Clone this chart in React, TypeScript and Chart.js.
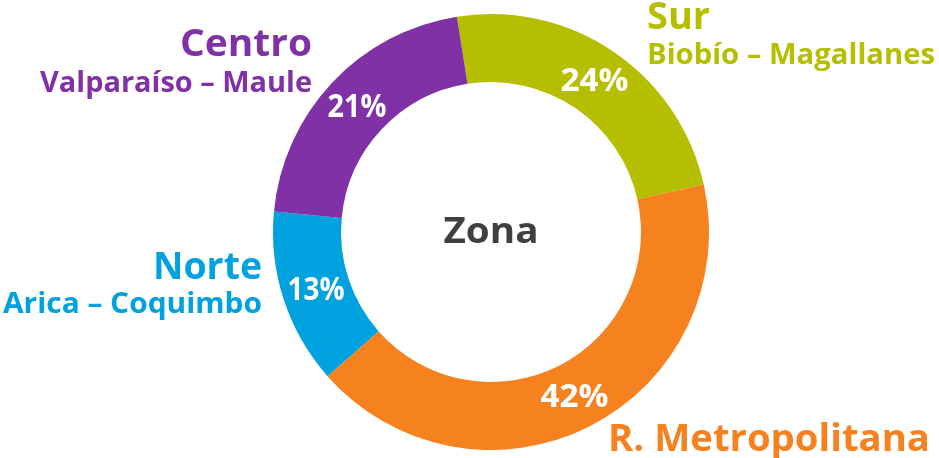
import React, { useEffect, useRef } from 'react';
import { Chart, registerables } from 'chart.js';

Chart.register(...registerables);

const zones = ['Sur', 'R. Metropolitana', 'Norte', 'Centro'];
const ranges = ['Biobío – Magallanes', '', 'Arica – Coquimbo', 'Valparaíso – Maule'];
const shares = [24, 42, 13, 21];
const colors = ['#B5BE00', '#F6821F', '#00A1DF', '#7F31A5'];
const centerTitle = 'Zona';

const FONT = '"Open Sans", sans-serif';

// label layout relative to chart centre: x offset, title baseline, subtitle baseline, align,
// rendered title width, subtitle width, percentage width
const labelLayout: [number, number, number, CanvasTextAlign, number, number, number][] = [
  [156, -203, -168, 'left', 63, 288, 68],
  [117, 219, 0, 'left', 322, 0, 68],
  [-229, 47, 81, 'right', 109, 259, 57],
  [-179, -176, -140, 'right', 132, 272, 59],
];

function drawFitted(
  ctx: CanvasRenderingContext2D,
  text: string,
  x: number,
  y: number,
  px: number,
  width: number,
  align: CanvasTextAlign,
  color: string
) {
  ctx.save();
  ctx.font = `700 ${px}px ${FONT}`;
  const w = ctx.measureText(text).width;
  const sx = width / w;
  ctx.fillStyle = color;
  ctx.textAlign = align;
  ctx.textBaseline = 'alphabetic';
  ctx.translate(x, y);
  ctx.scale(sx, 1);
  ctx.fillText(text, 0, 0);
  ctx.restore();
}

const labelsPlugin = {
  id: 'zoneLabels',
  afterDraw(chart: any) {
    const ctx: CanvasRenderingContext2D = chart.ctx;
    const meta = chart.getDatasetMeta(0);
    const first = meta.data[0];
    const cx = first.x;
    const cy = first.y;

    const titlePx = 37;
    const subPx = 29;
    const pctPx = 32;
    const centerPx = 36;

    meta.data.forEach((arc: any, i: number) => {
      const p = arc.getCenterPoint();
      drawFitted(ctx, shares[i] + '%', p.x, p.y + 11, pctPx, labelLayout[i][6], 'center', '#ffffff');
    });

    drawFitted(ctx, centerTitle, cx, cy + 11, centerPx, 95, 'center', '#404040');

    zones.forEach((z, i) => {
      const [dx, ty, sy, align, tw, sw] = labelLayout[i];
      drawFitted(ctx, z, cx + dx, cy + ty, titlePx, tw, align, colors[i]);
      if (ranges[i]) {
        drawFitted(ctx, ranges[i], cx + dx, cy + sy, subPx, sw, align, colors[i]);
      }
    });
  },
};

export default function App() {
  const ref = useRef<HTMLCanvasElement | null>(null);

  useEffect(() => {
    if (!ref.current) return;
    const chart = new Chart(ref.current, {
      type: 'doughnut',
      data: {
        labels: zones,
        datasets: [
          {
            data: shares,
            backgroundColor: colors,
            borderWidth: 0,
            hoverOffset: 0,
          },
        ],
      },
      options: {
        responsive: false,
        animation: false,
        devicePixelRatio: 1,
        rotation: -9,
        cutout: '68.8%',
        layout: { padding: { top: 14, bottom: 8, left: 273, right: 230 } },
        plugins: {
          legend: { display: false },
          tooltip: { enabled: false },
        },
      },
      plugins: [labelsPlugin],
    });
    return () => chart.destroy();
  }, []);

  return (
    <div style={{ position: 'absolute', left: 0, top: 0, width: 939, height: 458, background: '#ffffff' }}>
      <canvas ref={ref} width={939} height={458} style={{ display: 'block' }} />
    </div>
  );
}
